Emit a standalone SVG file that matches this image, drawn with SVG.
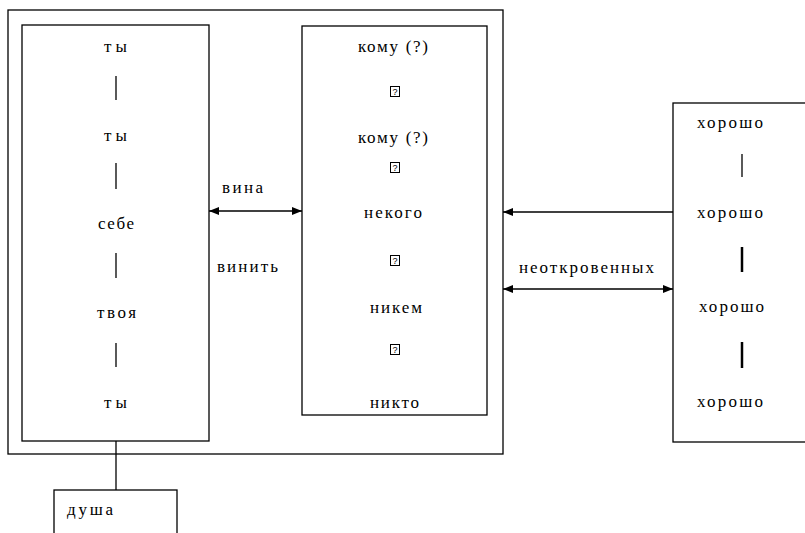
<svg xmlns="http://www.w3.org/2000/svg" width="805" height="533" viewBox="0 0 805 533">
<style>
.box{fill:#fff;stroke:#000;stroke-width:1.3}
.t{font-family:"Liberation Serif","Times New Roman",serif;font-size:17px;fill:#000}
.bar{stroke:#000;stroke-width:1.3}
.thick{stroke:#000;stroke-width:2.5}
.conn{stroke:#000;stroke-width:1.3;fill:none}
.q{fill:#fff;stroke:#000;stroke-width:1}
.qt{font-family:"Liberation Sans",Arial,sans-serif;font-size:9px;fill:#000}
</style>
<defs>
<marker id="ah" markerUnits="userSpaceOnUse" markerWidth="10" markerHeight="8" refX="10" refY="4" orient="auto-start-reverse">
<path d="M0,0 L10,4 L0,8 z" fill="#000"/>
</marker>
</defs>
<rect width="805" height="533" fill="#fff"/>
<g id="outer">
<rect class="box" x="8" y="10" width="495" height="444"/>
</g>
<g id="left">
<rect class="box" x="22" y="25" width="187" height="416"/>
<text class="t" x="104" y="52" textLength="23" lengthAdjust="spacing">ты</text>
<line class="bar" x1="116" y1="76" x2="116" y2="100"/>
<text class="t" x="104" y="141" textLength="23" lengthAdjust="spacing">ты</text>
<line class="bar" x1="116" y1="163" x2="116" y2="189"/>
<text class="t" x="98" y="229" textLength="36" lengthAdjust="spacing">себе</text>
<line class="bar" x1="116" y1="253" x2="116" y2="278"/>
<text class="t" x="97" y="318" textLength="39" lengthAdjust="spacing">твоя</text>
<line class="bar" x1="116" y1="343" x2="116" y2="367"/>
<text class="t" x="104" y="408" textLength="23" lengthAdjust="spacing">ты</text>
</g>
<g id="middle">
<rect class="box" x="302" y="26" width="185" height="389"/>
<text class="t" x="358" y="52" textLength="70" lengthAdjust="spacing">кому (?)</text>
<rect class="q" x="390.5" y="86.5" width="9" height="10"/>
<text class="qt" x="395" y="95" text-anchor="middle">?</text>
<text class="t" x="358" y="143" textLength="70" lengthAdjust="spacing">кому (?)</text>
<rect class="q" x="390.5" y="162.5" width="9" height="10"/>
<text class="qt" x="395" y="171" text-anchor="middle">?</text>
<text class="t" x="364" y="218" textLength="58" lengthAdjust="spacing">некого</text>
<rect class="q" x="390.5" y="255.5" width="9" height="10"/>
<text class="qt" x="395" y="264" text-anchor="middle">?</text>
<text class="t" x="370" y="313" textLength="52" lengthAdjust="spacing">никем</text>
<rect class="q" x="390.5" y="344.5" width="9" height="10"/>
<text class="qt" x="395" y="353" text-anchor="middle">?</text>
<text class="t" x="370" y="408" textLength="49" lengthAdjust="spacing">никто</text>
</g>
<g id="right">
<rect class="box" x="673" y="103" width="140" height="339"/>
<text class="t" x="697" y="128" textLength="66" lengthAdjust="spacing">хорошо</text>
<line class="bar" x1="742" y1="154" x2="742" y2="177"/>
<text class="t" x="697" y="218" textLength="66" lengthAdjust="spacing">хорошо</text>
<line class="thick" x1="742" y1="247" x2="742" y2="272"/>
<text class="t" x="699" y="312" textLength="65" lengthAdjust="spacing">хорошо</text>
<line class="thick" x1="742" y1="342" x2="742" y2="368"/>
<text class="t" x="697" y="407" textLength="66" lengthAdjust="spacing">хорошо</text>
</g>
<g id="dusha">
<rect class="box" x="54" y="490" width="123" height="60"/>
<text class="t" x="67" y="515" textLength="46" lengthAdjust="spacing">душа</text>
</g>
<g id="connectors">
<line class="conn" x1="116" y1="441" x2="116" y2="490"/>
<line class="conn" x1="209" y1="211" x2="302" y2="211" marker-start="url(#ah)" marker-end="url(#ah)"/>
<text class="t" x="222" y="193" textLength="41" lengthAdjust="spacing">вина</text>
<text class="t" x="217" y="272" textLength="61" lengthAdjust="spacing">винить</text>
<line class="conn" x1="673" y1="212" x2="503" y2="212" marker-end="url(#ah)"/>
<line class="conn" x1="503" y1="289" x2="673" y2="289" marker-start="url(#ah)" marker-end="url(#ah)"/>
<text class="t" x="519" y="273" textLength="135" lengthAdjust="spacing">неоткровенных</text>
</g>
</svg>
